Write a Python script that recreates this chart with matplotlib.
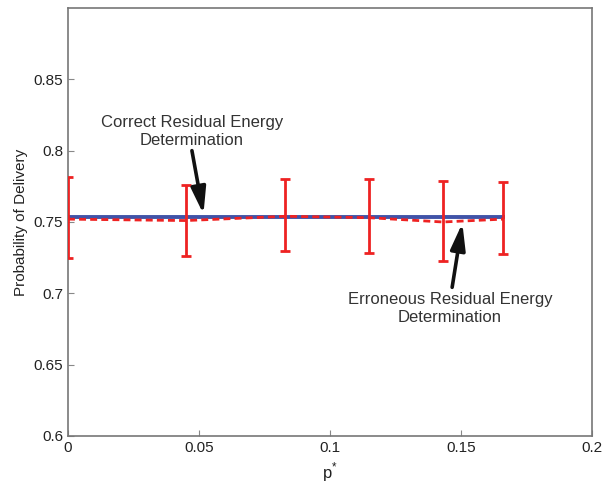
import matplotlib
matplotlib.use("Agg")
import matplotlib.pyplot as plt
import numpy as np

plt.rcParams['font.family'] = ['Liberation Sans', 'DejaVu Sans']
plt.rcParams['mathtext.fontset'] = 'custom'
plt.rcParams['mathtext.rm'] = 'Liberation Sans'

### DATA ###
p_star = [0.0, 0.045, 0.083, 0.115, 0.143, 0.166]
correct = [0.7535, 0.7535, 0.7535, 0.7535, 0.7535, 0.7535]
erroneous = [0.752, 0.751, 0.754, 0.753, 0.750, 0.752]
err_top = [0.7817, 0.776, 0.780, 0.780, 0.779, 0.778]
err_bot = [0.7246, 0.726, 0.730, 0.728, 0.7225, 0.7275]

yerr = [np.array(erroneous) - np.array(err_bot), np.array(err_top) - np.array(erroneous)]

### PLOT ###
fig = plt.figure(figsize=(6.08, 4.84), dpi=100)
ax = fig.add_axes([0.1118, 0.0992, 0.862, 0.8843])

ax.plot(p_star, correct, color='#4053a8', lw=2.8, zorder=2)
ax.errorbar(p_star, erroneous, yerr=yerr, color='#ee2222', lw=2, ls='--',
            dashes=(2.5, 1.5), capsize=3.5, capthick=2, elinewidth=2, zorder=3)

ax.set_xlim(0, 0.2)
ax.set_ylim(0.6, 0.9)
ax.set_xticks([0, 0.05, 0.1, 0.15, 0.2])
ax.set_xticklabels(['0', '0.05', '0.1', '0.15', '0.2'])
ax.set_yticks([0.6, 0.65, 0.7, 0.75, 0.8, 0.85])
ax.set_yticklabels(['0.6', '0.65', '0.7', '0.75', '0.8', '0.85'])
ax.tick_params(direction='in', length=4, labelsize=11, color='#888888', labelcolor='#222222')
for s in ax.spines.values():
    s.set_color('#777777')
    s.set_linewidth(1.2)

ax.set_xlabel(r'p$^{*}$', fontsize=12, color='#222222', labelpad=4)
ax.set_ylabel('Probability of Delivery', fontsize=11, color='#222222')

# annotations
arrow = dict(arrowstyle='-|>,head_length=1.0,head_width=0.28', color='#111111', lw=2.6,
             mutation_scale=16, shrinkA=0, shrinkB=0)
ax.text(0.0473, 0.8135, 'Correct Residual Energy\nDetermination', ha='center', va='center',
        fontsize=12, color='#333333', linespacing=1.3)
ax.annotate('', xy=(0.0517, 0.7555), xytext=(0.0473, 0.800), arrowprops=arrow)
ax.text(0.1458, 0.6894, 'Erroneous Residual Energy\nDetermination', ha='center', va='center',
        fontsize=12, color='#333333', linespacing=1.3)
ax.annotate('', xy=(0.1505, 0.7492), xytext=(0.1466, 0.7042), arrowprops=arrow)

plt.savefig('out.png', dpi=100)
